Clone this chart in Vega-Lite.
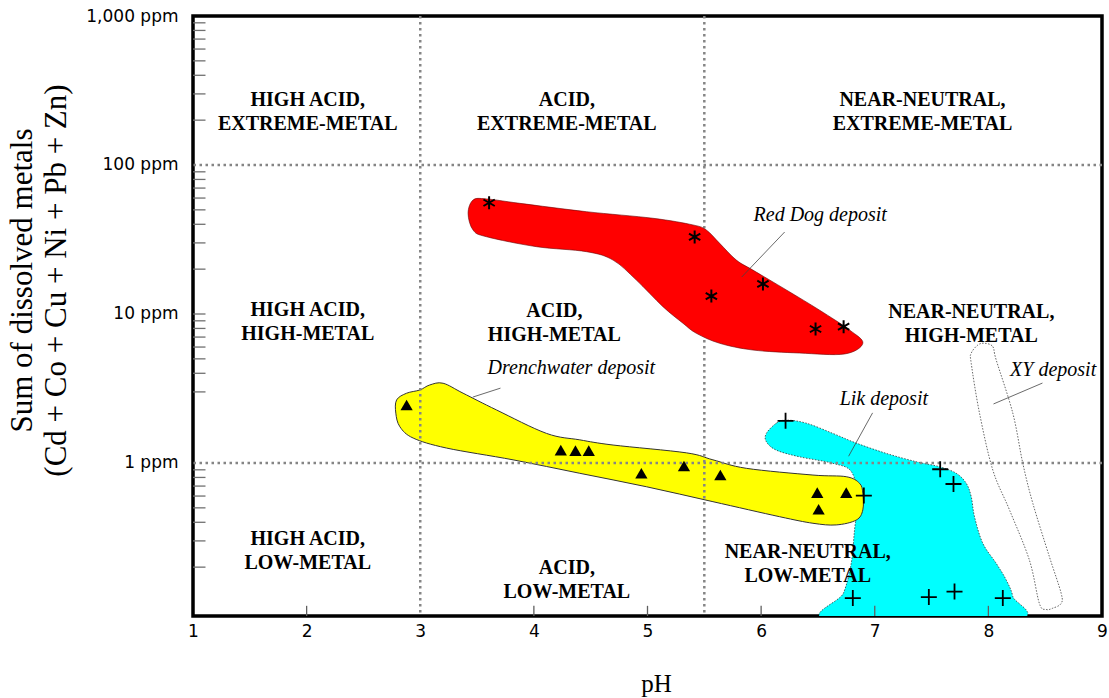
{
  "$schema": "https://vega.github.io/schema/vega-lite/v6.json",
  "width": 909,
  "height": 600,
  "autosize": "none",
  "padding": {"left": 193, "top": 16, "right": 7, "bottom": 82},
  "background": "white",
  "config": {
    "view": {"stroke": "black", "strokeWidth": 3.5, "fill": "white"},
    "axis": {"grid": false, "ticks": false, "domain": false, "labelFlush": false, "labelColor": "black", "titleColor": "black", "labelFont": "DejaVu Sans", "labelFontSize": 17, "titleFont": "Liberation Serif", "titleFontWeight": "normal"}
  },
  "datasets": {
    "polys": [
      {"deposit": "Red Dog", "i": 1, "pH": 3.583, "ppm": 59.2},
      {"deposit": "Red Dog", "i": 2, "pH": 3.465, "ppm": 58.2},
      {"deposit": "Red Dog", "i": 3, "pH": 3.421, "ppm": 47.4},
      {"deposit": "Red Dog", "i": 4, "pH": 3.465, "ppm": 36.6},
      {"deposit": "Red Dog", "i": 5, "pH": 3.583, "ppm": 33.0},
      {"deposit": "Red Dog", "i": 6, "pH": 4.023, "ppm": 28.3},
      {"deposit": "Red Dog", "i": 7, "pH": 4.463, "ppm": 26.2},
      {"deposit": "Red Dog", "i": 8, "pH": 4.697, "ppm": 23.0},
      {"deposit": "Red Dog", "i": 9, "pH": 4.902, "ppm": 16.9},
      {"deposit": "Red Dog", "i": 10, "pH": 5.136, "ppm": 11.2},
      {"deposit": "Red Dog", "i": 11, "pH": 5.312, "ppm": 8.67},
      {"deposit": "Red Dog", "i": 12, "pH": 5.43, "ppm": 7.42},
      {"deposit": "Red Dog", "i": 13, "pH": 5.635, "ppm": 6.36},
      {"deposit": "Red Dog", "i": 14, "pH": 5.928, "ppm": 5.73},
      {"deposit": "Red Dog", "i": 15, "pH": 6.339, "ppm": 5.47},
      {"deposit": "Red Dog", "i": 16, "pH": 6.734, "ppm": 5.39},
      {"deposit": "Red Dog", "i": 17, "pH": 6.895, "ppm": 6.36},
      {"deposit": "Red Dog", "i": 18, "pH": 6.778, "ppm": 7.81},
      {"deposit": "Red Dog", "i": 19, "pH": 6.515, "ppm": 10.6},
      {"deposit": "Red Dog", "i": 20, "pH": 6.222, "ppm": 14.5},
      {"deposit": "Red Dog", "i": 21, "pH": 5.928, "ppm": 19.7},
      {"deposit": "Red Dog", "i": 22, "pH": 5.782, "ppm": 23.0},
      {"deposit": "Red Dog", "i": 23, "pH": 5.635, "ppm": 29.8},
      {"deposit": "Red Dog", "i": 24, "pH": 5.518, "ppm": 36.6},
      {"deposit": "Red Dog", "i": 25, "pH": 5.4, "ppm": 39.6},
      {"deposit": "Red Dog", "i": 26, "pH": 5.048, "ppm": 43.9},
      {"deposit": "Red Dog", "i": 27, "pH": 4.463, "ppm": 48.6},
      {"deposit": "Red Dog", "i": 28, "pH": 3.876, "ppm": 55.3},

      {"deposit": "Drenchwater", "i": 1, "pH": 2.88, "ppm": 2.94},
      {"deposit": "Drenchwater", "i": 2, "pH": 2.996, "ppm": 3.09},
      {"deposit": "Drenchwater", "i": 3, "pH": 3.084, "ppm": 3.34},
      {"deposit": "Drenchwater", "i": 4, "pH": 3.201, "ppm": 3.43},
      {"deposit": "Drenchwater", "i": 5, "pH": 3.377, "ppm": 2.94},
      {"deposit": "Drenchwater", "i": 6, "pH": 3.671, "ppm": 2.27},
      {"deposit": "Drenchwater", "i": 7, "pH": 4.111, "ppm": 1.58},
      {"deposit": "Drenchwater", "i": 8, "pH": 4.404, "ppm": 1.43},
      {"deposit": "Drenchwater", "i": 9, "pH": 4.697, "ppm": 1.32},
      {"deposit": "Drenchwater", "i": 10, "pH": 5.342, "ppm": 1.17},
      {"deposit": "Drenchwater", "i": 11, "pH": 5.576, "ppm": 1.05},
      {"deposit": "Drenchwater", "i": 12, "pH": 5.87, "ppm": 0.921},
      {"deposit": "Drenchwater", "i": 13, "pH": 6.456, "ppm": 0.83},
      {"deposit": "Drenchwater", "i": 14, "pH": 6.749, "ppm": 0.809},
      {"deposit": "Drenchwater", "i": 15, "pH": 6.866, "ppm": 0.731},
      {"deposit": "Drenchwater", "i": 16, "pH": 6.895, "ppm": 0.627},
      {"deposit": "Drenchwater", "i": 17, "pH": 6.895, "ppm": 0.484},
      {"deposit": "Drenchwater", "i": 18, "pH": 6.837, "ppm": 0.414},
      {"deposit": "Drenchwater", "i": 19, "pH": 6.661, "ppm": 0.384},
      {"deposit": "Drenchwater", "i": 20, "pH": 6.456, "ppm": 0.394},
      {"deposit": "Drenchwater", "i": 21, "pH": 6.163, "ppm": 0.436},
      {"deposit": "Drenchwater", "i": 22, "pH": 5.576, "ppm": 0.55},
      {"deposit": "Drenchwater", "i": 23, "pH": 4.99, "ppm": 0.693},
      {"deposit": "Drenchwater", "i": 24, "pH": 4.404, "ppm": 0.853},
      {"deposit": "Drenchwater", "i": 25, "pH": 3.817, "ppm": 1.05},
      {"deposit": "Drenchwater", "i": 26, "pH": 3.231, "ppm": 1.26},
      {"deposit": "Drenchwater", "i": 27, "pH": 2.938, "ppm": 1.47},
      {"deposit": "Drenchwater", "i": 28, "pH": 2.821, "ppm": 1.75},
      {"deposit": "Drenchwater", "i": 29, "pH": 2.785, "ppm": 2.16},
      {"deposit": "Drenchwater", "i": 30, "pH": 2.792, "ppm": 2.65},

      {"deposit": "Lik", "i": 1, "pH": 6.046, "ppm": 1.58},
      {"deposit": "Lik", "i": 2, "pH": 6.134, "ppm": 1.85},
      {"deposit": "Lik", "i": 3, "pH": 6.222, "ppm": 1.94},
      {"deposit": "Lik", "i": 4, "pH": 6.398, "ppm": 1.85},
      {"deposit": "Lik", "i": 5, "pH": 6.631, "ppm": 1.58},
      {"deposit": "Lik", "i": 6, "pH": 6.837, "ppm": 1.36},
      {"deposit": "Lik", "i": 7, "pH": 7.101, "ppm": 1.16},
      {"deposit": "Lik", "i": 8, "pH": 7.365, "ppm": 1.02},
      {"deposit": "Lik", "i": 9, "pH": 7.57, "ppm": 0.944},
      {"deposit": "Lik", "i": 10, "pH": 7.717, "ppm": 0.853},
      {"deposit": "Lik", "i": 11, "pH": 7.805, "ppm": 0.731},
      {"deposit": "Lik", "i": 12, "pH": 7.849, "ppm": 0.594},
      {"deposit": "Lik", "i": 13, "pH": 7.878, "ppm": 0.436},
      {"deposit": "Lik", "i": 14, "pH": 7.951, "ppm": 0.289},
      {"deposit": "Lik", "i": 15, "pH": 8.069, "ppm": 0.212},
      {"deposit": "Lik", "i": 16, "pH": 8.157, "ppm": 0.164},
      {"deposit": "Lik", "i": 17, "pH": 8.215, "ppm": 0.127},
      {"deposit": "Lik", "i": 18, "pH": 8.23, "ppm": 0.0883},
      {"deposit": "Lik", "i": 19, "pH": 6.6, "ppm": 0.0883},
      {"deposit": "Lik", "i": 20, "pH": 6.725, "ppm": 0.134},
      {"deposit": "Lik", "i": 21, "pH": 6.793, "ppm": 0.212},
      {"deposit": "Lik", "i": 22, "pH": 6.822, "ppm": 0.355},
      {"deposit": "Lik", "i": 23, "pH": 6.849, "ppm": 0.565},
      {"deposit": "Lik", "i": 24, "pH": 6.796, "ppm": 0.871},
      {"deposit": "Lik", "i": 25, "pH": 6.631, "ppm": 0.995},
      {"deposit": "Lik", "i": 26, "pH": 6.339, "ppm": 1.1},
      {"deposit": "Lik", "i": 27, "pH": 6.134, "ppm": 1.22},
      {"deposit": "Lik", "i": 28, "pH": 6.046, "ppm": 1.39},

      {"deposit": "XY", "i": 1, "pH": 7.966, "ppm": 6.36},
      {"deposit": "XY", "i": 2, "pH": 8.039, "ppm": 6.04},
      {"deposit": "XY", "i": 3, "pH": 8.069, "ppm": 4.91},
      {"deposit": "XY", "i": 4, "pH": 8.215, "ppm": 2.16},
      {"deposit": "XY", "i": 5, "pH": 8.303, "ppm": 0.995},
      {"deposit": "XY", "i": 6, "pH": 8.391, "ppm": 0.537},
      {"deposit": "XY", "i": 7, "pH": 8.537, "ppm": 0.235},
      {"deposit": "XY", "i": 8, "pH": 8.64, "ppm": 0.134},
      {"deposit": "XY", "i": 9, "pH": 8.64, "ppm": 0.114},
      {"deposit": "XY", "i": 10, "pH": 8.566, "ppm": 0.106},
      {"deposit": "XY", "i": 11, "pH": 8.508, "ppm": 0.104},
      {"deposit": "XY", "i": 12, "pH": 8.449, "ppm": 0.114},
      {"deposit": "XY", "i": 13, "pH": 8.361, "ppm": 0.223},
      {"deposit": "XY", "i": 14, "pH": 8.186, "ppm": 0.484},
      {"deposit": "XY", "i": 15, "pH": 8.039, "ppm": 0.897},
      {"deposit": "XY", "i": 16, "pH": 7.922, "ppm": 2.16},
      {"deposit": "XY", "i": 17, "pH": 7.849, "ppm": 4.67},
      {"deposit": "XY", "i": 18, "pH": 7.849, "ppm": 5.45},
      {"deposit": "XY", "i": 19, "pH": 7.907, "ppm": 6.19}
    ],
    "samples": [
      {"deposit": "Red Dog", "pH": 3.606, "ppm": 55.8},
      {"deposit": "Red Dog", "pH": 5.415, "ppm": 32.9},
      {"deposit": "Red Dog", "pH": 5.562, "ppm": 13.2},
      {"deposit": "Red Dog", "pH": 6.016, "ppm": 15.9},
      {"deposit": "Red Dog", "pH": 6.479, "ppm": 7.93},
      {"deposit": "Red Dog", "pH": 6.726, "ppm": 8.22},
      {"deposit": "Drenchwater", "pH": 2.88, "ppm": 2.45},
      {"deposit": "Drenchwater", "pH": 4.237, "ppm": 1.22},
      {"deposit": "Drenchwater", "pH": 4.366, "ppm": 1.21},
      {"deposit": "Drenchwater", "pH": 4.483, "ppm": 1.21},
      {"deposit": "Drenchwater", "pH": 4.946, "ppm": 0.853},
      {"deposit": "Drenchwater", "pH": 5.321, "ppm": 0.955},
      {"deposit": "Drenchwater", "pH": 5.641, "ppm": 0.83},
      {"deposit": "Drenchwater", "pH": 6.494, "ppm": 0.633},
      {"deposit": "Drenchwater", "pH": 6.749, "ppm": 0.633},
      {"deposit": "Drenchwater", "pH": 6.506, "ppm": 0.489},
      {"deposit": "Lik", "pH": 6.215, "ppm": 1.92},
      {"deposit": "Lik", "pH": 7.576, "ppm": 0.908},
      {"deposit": "Lik", "pH": 7.693, "ppm": 0.723},
      {"deposit": "Lik", "pH": 6.904, "ppm": 0.604},
      {"deposit": "Lik", "pH": 6.807, "ppm": 0.124},
      {"deposit": "Lik", "pH": 7.476, "ppm": 0.126},
      {"deposit": "Lik", "pH": 7.702, "ppm": 0.137},
      {"deposit": "Lik", "pH": 8.127, "ppm": 0.124}
    ],
    "regions": [
      {"label": "HIGH ACID,\nEXTREME-METAL", "pH": 2.01, "ppm": 273},
      {"label": "ACID,\nEXTREME-METAL", "pH": 4.29, "ppm": 273},
      {"label": "NEAR-NEUTRAL,\nEXTREME-METAL", "pH": 7.42, "ppm": 273},
      {"label": "HIGH ACID,\nHIGH-METAL", "pH": 2.01, "ppm": 10.6},
      {"label": "ACID,\nHIGH-METAL", "pH": 4.18, "ppm": 10.5},
      {"label": "NEAR-NEUTRAL,\nHIGH-METAL", "pH": 7.85, "ppm": 10.3},
      {"label": "HIGH ACID,\nLOW-METAL", "pH": 2.01, "ppm": 0.309},
      {"label": "ACID,\nLOW-METAL", "pH": 4.29, "ppm": 0.197},
      {"label": "NEAR-NEUTRAL,\nLOW-METAL", "pH": 6.41, "ppm": 0.253}
    ],
    "depositLabels": [
      {"label": "Red Dog deposit", "pH": 6.52, "ppm": 46.1},
      {"label": "Drenchwater deposit", "pH": 4.33, "ppm": 4.35},
      {"label": "Lik deposit", "pH": 7.08, "ppm": 2.69},
      {"label": "XY deposit", "pH": 8.57, "ppm": 4.21}
    ],
    "leaders": [
      {"pH": 6.207, "ppm": 35.5, "pH2": 5.829, "ppm2": 17.7},
      {"pH": 3.706, "ppm": 3.18, "pH2": 3.463, "ppm2": 2.77},
      {"pH": 6.981, "ppm": 2.17, "pH2": 6.77, "ppm2": 1.11},
      {"pH": 8.476, "ppm": 3.44, "pH2": 8.045, "ppm2": 2.49}
    ],
    "vgrid": [{"pH": 3}, {"pH": 5.5}],
    "hgrid": [{"ppm": 1}, {"ppm": 100}],
    "yticks": [
      {"ppm": 0.2}, {"ppm": 0.3}, {"ppm": 0.4}, {"ppm": 0.5}, {"ppm": 0.6}, {"ppm": 0.7}, {"ppm": 0.8}, {"ppm": 0.9},
      {"ppm": 3}, {"ppm": 4}, {"ppm": 5}, {"ppm": 6}, {"ppm": 7}, {"ppm": 8}, {"ppm": 9}, {"ppm": 10},
      {"ppm": 20}, {"ppm": 30}, {"ppm": 40}, {"ppm": 50}, {"ppm": 60}, {"ppm": 70}, {"ppm": 80}, {"ppm": 90},
      {"ppm": 200}, {"ppm": 300}, {"ppm": 400}, {"ppm": 500}, {"ppm": 600}, {"ppm": 700}, {"ppm": 800}, {"ppm": 900}
    ],
    "xticks": [{"pH": 2}, {"pH": 4}, {"pH": 5}, {"pH": 6}, {"pH": 7}, {"pH": 8}]
  },
  "layer": [
    {
      "data": {"name": "polys"},
      "transform": [{"filter": "datum.deposit === 'Lik'"}],
      "mark": {"type": "line", "interpolate": "cardinal-closed", "fill": "#00ffff", "stroke": "#333333", "strokeWidth": 0.8, "strokeDash": [1.5, 1.5], "clip": true},
      "encoding": {
        "x": {"field": "pH", "type": "quantitative", "scale": {"domain": [1, 9], "nice": false, "zero": false},
          "axis": {"values": [1, 2, 3, 4, 5, 6, 7, 8, 9], "format": "d", "labelPadding": 7,
            "title": "pH", "titleFont": "Liberation Serif", "titleFontSize": 25,
            "titleX": 463, "titleY": 67, "titleBaseline": "middle", "titleAlign": "center"}},
        "y": {"field": "ppm", "type": "quantitative", "scale": {"type": "log", "domain": [0.094, 1000], "nice": false},
          "axis": {"values": [1, 10, 100, 1000], "labelExpr": "format(datum.value, ',') + ' ppm'",
            "labelPadding": 15, "labelBaseline": "middle",
            "title": ["Sum of dissolved metals", "(Cd + Co + Cu + Ni + Pb + Zn)"], "titleFont": "Liberation Serif", "titleFontSize": 31,
            "titleLineHeight": 34, "titleAngle": -90,
            "titleX": -155, "titleY": 264, "titleAlign": "center", "titleBaseline": "bottom"}},
        "order": {"field": "i", "type": "quantitative"}
      }
    },
    {
      "data": {"name": "polys"},
      "transform": [{"filter": "datum.deposit === 'Drenchwater'"}],
      "mark": {"type": "line", "interpolate": "cardinal-closed", "fill": "#ffff00", "stroke": "#333333", "strokeWidth": 1},
      "encoding": {
        "x": {"field": "pH", "type": "quantitative"},
        "y": {"field": "ppm", "type": "quantitative"},
        "order": {"field": "i", "type": "quantitative"}
      }
    },
    {
      "data": {"name": "polys"},
      "transform": [{"filter": "datum.deposit === 'XY'"}],
      "mark": {"type": "line", "interpolate": "cardinal-closed", "fill": null, "stroke": "#555555", "strokeWidth": 0.9, "strokeDash": [1.5, 1.5]},
      "encoding": {
        "x": {"field": "pH", "type": "quantitative"},
        "y": {"field": "ppm", "type": "quantitative"},
        "order": {"field": "i", "type": "quantitative"}
      }
    },
    {
      "data": {"name": "vgrid"},
      "mark": {"type": "rule", "color": "#858585", "strokeWidth": 2.5, "strokeDash": [2.5, 3.5]},
      "encoding": {"x": {"field": "pH", "type": "quantitative"}}
    },
    {
      "data": {"name": "hgrid"},
      "mark": {"type": "rule", "color": "#858585", "strokeWidth": 2.5, "strokeDash": [2.5, 3.5]},
      "encoding": {"y": {"field": "ppm", "type": "quantitative"}}
    },
    {
      "data": {"name": "polys"},
      "transform": [{"filter": "datum.deposit === 'Red Dog'"}],
      "mark": {"type": "line", "interpolate": "cardinal-closed", "fill": "#ff0000", "stroke": "#660000", "strokeWidth": 0.6},
      "encoding": {
        "x": {"field": "pH", "type": "quantitative"},
        "y": {"field": "ppm", "type": "quantitative"},
        "order": {"field": "i", "type": "quantitative"}
      }
    },
    {
      "data": {"name": "yticks"},
      "mark": {"type": "rule", "color": "#707070", "strokeWidth": 1.3},
      "encoding": {
        "y": {"field": "ppm", "type": "quantitative"},
        "x": {"datum": 1, "type": "quantitative"},
        "x2": {"datum": 1.11}
      }
    },
    {
      "data": {"name": "xticks"},
      "mark": {"type": "rule", "color": "#606060", "strokeWidth": 1.3},
      "encoding": {
        "x": {"field": "pH", "type": "quantitative"},
        "y": {"datum": 0.094, "type": "quantitative"},
        "y2": {"datum": 0.11}
      }
    },
    {
      "data": {"name": "leaders"},
      "mark": {"type": "rule", "color": "#444444", "strokeWidth": 0.8},
      "encoding": {
        "x": {"field": "pH", "type": "quantitative"},
        "y": {"field": "ppm", "type": "quantitative"},
        "x2": {"field": "pH2"},
        "y2": {"field": "ppm2"}
      }
    },
    {
      "data": {"name": "samples"},
      "transform": [{"filter": "datum.deposit === 'Red Dog'"}],
      "mark": {"type": "point", "shape": "M0,-1V1M-0.87,-0.5L0.87,0.5M-0.87,0.5L0.87,-0.5", "filled": false, "stroke": "black", "strokeWidth": 2, "size": 169, "opacity": 1},
      "encoding": {
        "x": {"field": "pH", "type": "quantitative"},
        "y": {"field": "ppm", "type": "quantitative"}
      }
    },
    {
      "data": {"name": "samples"},
      "transform": [{"filter": "datum.deposit === 'Drenchwater'"}],
      "mark": {"type": "point", "shape": "triangle-up", "filled": true, "color": "black", "size": 150, "opacity": 1},
      "encoding": {
        "x": {"field": "pH", "type": "quantitative"},
        "y": {"field": "ppm", "type": "quantitative"}
      }
    },
    {
      "data": {"name": "samples"},
      "transform": [{"filter": "datum.deposit === 'Lik'"}],
      "mark": {"type": "point", "shape": "M-1,0H1M0,-1V1", "filled": false, "stroke": "black", "strokeWidth": 1.8, "size": 256, "opacity": 1},
      "encoding": {
        "x": {"field": "pH", "type": "quantitative"},
        "y": {"field": "ppm", "type": "quantitative"}
      }
    },
    {
      "data": {"name": "regions"},
      "mark": {"type": "text", "font": "Liberation Serif", "fontWeight": "bold", "fontSize": 20, "lineHeight": 24, "lineBreak": "\n", "align": "center", "baseline": "middle", "color": "black"},
      "encoding": {
        "x": {"field": "pH", "type": "quantitative"},
        "y": {"field": "ppm", "type": "quantitative"},
        "text": {"field": "label"}
      }
    },
    {
      "data": {"name": "depositLabels"},
      "mark": {"type": "text", "font": "Liberation Serif", "fontStyle": "italic", "fontSize": 20, "align": "center", "baseline": "middle", "color": "black"},
      "encoding": {
        "x": {"field": "pH", "type": "quantitative"},
        "y": {"field": "ppm", "type": "quantitative"},
        "text": {"field": "label"}
      }
    }
  ]
}
